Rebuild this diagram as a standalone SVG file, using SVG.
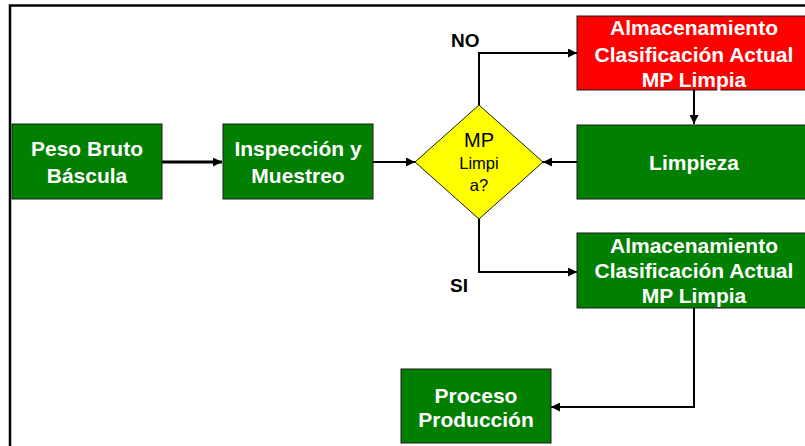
<svg xmlns="http://www.w3.org/2000/svg" width="805" height="446" viewBox="0 0 805 446">
  <style>
    .box { stroke: #1a1a1a; stroke-width: 1; }
    .green { fill: #007f00; }
    .red { fill: #ff0000; }
    .lbl { font-family: "Liberation Sans", Arial, sans-serif; font-weight: bold; font-size: 21px; fill: #ffffff; text-anchor: middle; }
    .dec { font-family: "Liberation Sans", Arial, sans-serif; fill: #000000; text-anchor: middle; }
    .branch { font-family: "Liberation Sans", Arial, sans-serif; font-weight: bold; font-size: 19px; fill: #000000; }
    .conn { fill: none; stroke: #000000; stroke-width: 2; marker-end: url(#arrow); }
  </style>
  <defs>
    <marker id="arrow" markerUnits="userSpaceOnUse" markerWidth="10" markerHeight="9" refX="9" refY="4.5" orient="auto">
      <path d="M0,0 L9,4.5 L0,9 z" fill="#000000"/>
    </marker>
  </defs>

  <rect width="805" height="446" fill="#ffffff"/>
  <!-- page frame -->
  <path d="M10,446 V5.5 H805" fill="none" stroke="#000000" stroke-width="2.5"/>

  <g id="connectors">
    <line x1="162" y1="162" x2="222" y2="162" class="conn" stroke-width="3" style="stroke-width:3"/>
    <line x1="373" y1="162" x2="415" y2="162" class="conn"/>
    <polyline points="479,105 479,53 577,53" class="conn"/>
    <line x1="694" y1="90" x2="694" y2="124" class="conn"/>
    <line x1="577" y1="162" x2="543" y2="162" class="conn"/>
    <polyline points="479,219 479,272 577,272" class="conn"/>
    <polyline points="694,308 694,407 551,407" class="conn"/>
  </g>

  <g id="peso-bruto">
    <rect x="12" y="124" width="150" height="75" class="box green"/>
    <text x="87" y="156" class="lbl">Peso Bruto</text>
    <text x="87" y="183" class="lbl">Báscula</text>
  </g>

  <g id="inspeccion">
    <rect x="223" y="124" width="150" height="75" class="box green"/>
    <text x="298" y="156" class="lbl">Inspección y</text>
    <text x="298" y="183" class="lbl">Muestreo</text>
  </g>

  <g id="decision">
    <polygon points="479,105 543,162 479,219 415,162" fill="#ffff00" stroke="#1a1a1a" stroke-width="1"/>
    <text x="479" y="147" class="dec" font-size="20">MP</text>
    <text x="479" y="169" class="dec" font-size="16.5">Limpi</text>
    <text x="479" y="191" class="dec" font-size="16.5">a?</text>
  </g>

  <g id="label-no">
    <text x="451" y="47" class="branch">NO</text>
  </g>
  <g id="label-si">
    <text x="450" y="292" class="branch">SI</text>
  </g>

  <g id="almacen-rojo">
    <rect x="577" y="16" width="234" height="74" class="box red"/>
    <text x="694" y="35" class="lbl">Almacenamiento</text>
    <text x="694" y="62" class="lbl">Clasificación Actual</text>
    <text x="694" y="87" class="lbl">MP Limpia</text>
  </g>

  <g id="limpieza">
    <rect x="577" y="125" width="234" height="74" class="box green"/>
    <text x="694" y="170" class="lbl">Limpieza</text>
  </g>

  <g id="almacen-verde">
    <rect x="577" y="233" width="234" height="75" class="box green"/>
    <text x="694" y="253" class="lbl">Almacenamiento</text>
    <text x="694" y="278" class="lbl">Clasificación Actual</text>
    <text x="694" y="303" class="lbl">MP Limpia</text>
  </g>

  <g id="proceso">
    <rect x="401" y="369" width="150" height="74" class="box green"/>
    <text x="476" y="403" class="lbl">Proceso</text>
    <text x="476" y="427" class="lbl">Producción</text>
  </g>
</svg>
